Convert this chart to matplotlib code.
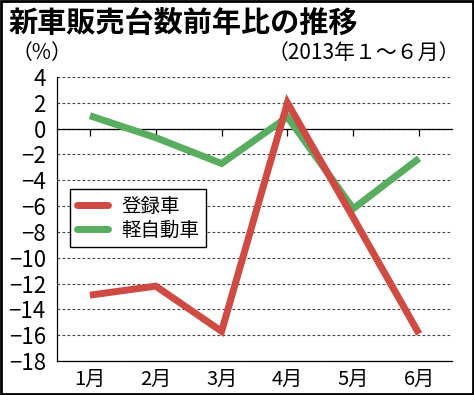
import matplotlib
matplotlib.use("Agg")
import matplotlib.pyplot as plt
from matplotlib.patches import Rectangle

# data
months = ["1月", "2月", "3月", "4月", "5月", "6月"]
registered = [-12.9, -12.2, -15.7, 2.0, -6.9, -15.9]
kei = [1.0, -0.7, -2.7, 0.9, -6.2, -2.3]
yticks = list(range(-18, 5, 2))

RED = "#cf4a43"
GREEN = "#58ad5e"
JP = ["Noto Sans CJK JP", "DejaVu Sans"]
NUM = ["Liberation Sans Narrow", "Noto Sans CJK JP", "DejaVu Sans"]

fig = plt.figure(figsize=(4.74, 3.95), dpi=100)
ax = fig.add_axes([57 / 474, 1 - 361 / 395, 395 / 474, 284 / 395])

x = list(range(len(months)))
ax.plot(x, kei, color=GREEN, lw=5, solid_joinstyle="miter", solid_capstyle="butt",
        label="軽自動車", zorder=3)
ax.plot(x, registered, color=RED, lw=5, solid_joinstyle="miter", solid_capstyle="butt",
        label="登録車", zorder=4)

ax.set_xlim(-0.5, 5.5)
ax.set_ylim(-18, 4)
ax.set_yticks(yticks)
ax.set_xticks(x)
ax.set_xticklabels(months)

# dashed grid, solid zero line with ticks
ax.yaxis.grid(True, color="#444444", lw=0.8, linestyle=(0, (2.5, 2)))
ax.set_axisbelow(True)
ax.spines["right"].set_visible(False)
ax.spines["top"].set_position(("data", 0))
ax.spines["top"].set_linewidth(0.9)
ax.spines["left"].set_linewidth(0.9)
ax.spines["bottom"].set_linewidth(0.9)
ax.tick_params(axis="x", bottom=False, top=True, direction="in", length=5,
               width=0.9, labelbottom=True, labeltop=False, pad=6)
ax.tick_params(axis="y", length=0, pad=8)

for lab in ax.get_yticklabels():
    lab.set_fontfamily(NUM)
    lab.set_fontsize(16)
for lab in ax.get_xticklabels():
    lab.set_fontfamily(JP)
    lab.set_fontsize(14.5)

handles, labels = ax.get_legend_handles_labels()
leg = ax.legend(handles[::-1], labels[::-1], loc="upper left",
                bbox_to_anchor=(0.033, 0.606), borderaxespad=0,
                fancybox=False, edgecolor="black", framealpha=1,
                prop={"family": JP, "size": 14}, handlelength=1.6,
                handletextpad=0.7, labelspacing=0.15, borderpad=0.35)
leg.get_frame().set_linewidth(1)
for h in leg.get_lines():
    h.set_solid_capstyle("round")
    h.set_linewidth(5)

fig.text(8 / 474, 1 - 23 / 395, "新車販売台数前年比の推移", family=JP,
         fontsize=21, fontweight="bold", va="center", ha="left")
fig.text(12 / 474, 1 - 53 / 395, "（%）", family=JP, fontsize=15,
         va="center", ha="left")
fig.text(460 / 474, 1 - 53 / 395, "（2013年１～６月）", family=NUM, fontsize=15,
         va="center", ha="right")

fig.patches.append(Rectangle((0.002, 0.002), 0.996, 0.996, transform=fig.transFigure,
                             fill=False, edgecolor="black", lw=2))

fig.savefig("out.png", dpi=100)
